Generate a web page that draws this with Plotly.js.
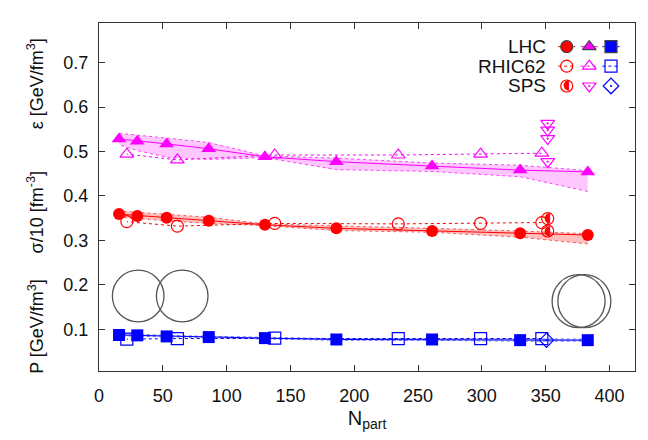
<!DOCTYPE html>
<html>
<head>
<meta charset="utf-8">
<script src="https://cdn.plot.ly/plotly-3.0.1.min.js"></script>
<style>html,body{margin:0;padding:0;background:#fff;}#chart{width:648px;height:440px;}</style>
</head>
<body>
<div id="chart"></div>
<script>
// ---------------- data ----------------
const npartLHC  = [383, 330, 261, 186, 130, 86, 53, 30, 15.7];
const epsLHC    = [0.454, 0.458, 0.467, 0.477, 0.488, 0.506, 0.517, 0.523, 0.528];
const epsLHCup  = [0.457, 0.469, 0.474, 0.485, 0.490, 0.520, 0.530, 0.537, 0.541];
const epsLHClo  = [0.410, 0.443, 0.455, 0.459, 0.486, 0.482, 0.487, 0.502, 0.515];
const sigLHC    = [0.312, 0.316, 0.321, 0.327, 0.335, 0.344, 0.351, 0.355, 0.359];
const sigLHCup  = [0.315, 0.321, 0.327, 0.332, 0.337, 0.352, 0.358, 0.362, 0.366];
const sigLHClo  = [0.292, 0.307, 0.318, 0.322, 0.333, 0.338, 0.344, 0.349, 0.352];
const pLHC      = [0.0754, 0.0754, 0.0769, 0.0769, 0.0800, 0.0823, 0.0838, 0.0862, 0.0870];
const pLHCup    = [0.078, 0.078, 0.079, 0.079, 0.082, 0.084, 0.086, 0.089, 0.090];
const pLHClo    = [0.073, 0.073, 0.075, 0.075, 0.078, 0.080, 0.082, 0.084, 0.085];

const npartRHIC = [347, 299, 234.5, 137.7, 61.4, 21.8];
const epsRHIC   = [0.496, 0.494, 0.492, 0.492, 0.481, 0.494];
const sigRHIC   = [0.340, 0.338, 0.337, 0.338, 0.332, 0.342];
const pRHIC     = [0.079, 0.079, 0.079, 0.080, 0.079, 0.0777];

const npartSPSeps = [351.6, 351.6, 351.6, 351.6];
const epsSPS      = [0.563, 0.548, 0.529, 0.477];
const npartSPSsig = [351.6, 351.6];
const sigSPS      = [0.349, 0.321];
const npartSPSp   = [350.7];
const pSPS        = [0.0754];

const xTicks = [0, 50, 100, 150, 200, 250, 300, 350, 400];
const xTickText = ['0', '50', '100', '150', '200', '250', '300', '350', '400'];
const yTicks = [0.1, 0.2, 0.3, 0.4, 0.5, 0.6, 0.7];
const yTickText = ['0.1', '0.2', '0.3', '0.4', '0.5', '0.6', '0.7'];

const legendNames = ['LHC', 'RHIC62', 'SPS'];
const yTitles = ['ε [GeV/fm<sup>3</sup>]', 'σ/10 [fm<sup>-3</sup>]', 'P [GeV/fm<sup>3</sup>]'];

// nucleus-overlap sketches: centers (data coords) and pixel radius
const circleX = [30.7, 65.2, 375.8, 380.3];
const circleY = [0.1747, 0.1747, 0.163, 0.163];
const circleR = [25.8, 25.8, 26.5, 26.5];

// ---------------- styling ----------------
const RED = '#ff0000', MAG = '#ff00ff', BLUE = '#0000ff';
const MS = 12;
const traces = [];

function band(x, up, lo, col, fillcol) {
  traces.push({x: x, y: up, mode: 'lines', line: {color: col, width: 1, dash: 'dot'}, hoverinfo: 'skip'});
  traces.push({x: x, y: lo, mode: 'lines', line: {color: col, width: 1, dash: 'dot'}, fill: 'tonexty', fillcolor: fillcol, hoverinfo: 'skip'});
}
band(npartLHC, epsLHCup, epsLHClo, 'rgba(255,0,255,0.7)', 'rgba(255,0,255,0.22)');
band(npartLHC, sigLHCup, sigLHClo, 'rgba(255,0,0,0.6)', 'rgba(255,0,0,0.25)');
band(npartLHC, pLHCup, pLHClo, 'rgba(0,0,255,0.5)', 'rgba(0,0,255,0.2)');

// RHIC62 (open, dotted)
traces.push({x: npartRHIC, y: epsRHIC, mode: 'lines+markers', line: {color: MAG, width: 1, dash: 'dot'},
  marker: {symbol: 'triangle-up-open', size: MS, color: MAG, line: {width: 1.2}}});
traces.push({x: npartRHIC, y: sigRHIC, mode: 'lines+markers', line: {color: RED, width: 1, dash: 'dot'},
  marker: {symbol: 'circle-open', size: MS, color: RED, line: {width: 1.2}}});
traces.push({x: npartRHIC, y: pRHIC, mode: 'lines+markers', line: {color: BLUE, width: 1, dash: 'dot'},
  marker: {symbol: 'square-open', size: MS, color: BLUE, line: {width: 1.2}}});

// LHC (filled, solid)
traces.push({x: npartLHC, y: epsLHC, mode: 'lines+markers', line: {color: MAG, width: 1},
  marker: {symbol: 'triangle-up', size: MS + 1, color: MAG}});
traces.push({x: npartLHC, y: sigLHC, mode: 'lines+markers', line: {color: RED, width: 1},
  marker: {symbol: 'circle', size: MS, color: RED}});
traces.push({x: npartLHC, y: pLHC, mode: 'lines+markers', line: {color: BLUE, width: 1},
  marker: {symbol: 'square', size: MS, color: BLUE}});

// SPS
traces.push({x: npartSPSeps, y: epsSPS, mode: 'markers',
  marker: {symbol: 'triangle-down-open-dot', size: MS, color: MAG, line: {width: 1.2}}});
traces.push({x: npartSPSsig, y: sigSPS, mode: 'markers',
  marker: {symbol: 'circle-open', size: MS, color: RED, line: {width: 1.2}}});
traces.push({x: npartSPSsig, y: sigSPS, mode: 'text', text: sigSPS.map(() => '◖'),
  textposition: 'middle center', textfont: {family: 'DejaVu Sans', size: 14, color: RED}, hoverinfo: 'skip'});
traces.push({x: npartSPSp, y: pSPS, mode: 'markers',
  marker: {symbol: 'diamond-open-dot', size: MS - 1, color: BLUE, line: {width: 1.2}}});

// ---------------- custom key (top right) ----------------
const keyRows = [0.932, 0.876, 0.819];
const keyCols = [0.8726, 0.9147, 0.9552];
const keyHalf = 0.016;
const keySym = [
  ['circle', 'triangle-up', 'square'],
  ['circle-open', 'triangle-up-open', 'square-open'],
  ['circle-open', 'triangle-down-open-dot', 'diamond-open-dot']
];
const keyCol = [RED, MAG, BLUE];
const keyDash = ['solid', 'dot', null];
for (let r = 0; r < 3; r++) {
  for (let c = 0; c < 3; c++) {
    if (keyDash[r]) {
      traces.push({x: [keyCols[c] - keyHalf, keyCols[c] + keyHalf], y: [keyRows[r], keyRows[r]],
        xaxis: 'x2', yaxis: 'y2', mode: 'lines', line: {color: keyCol[c], width: 1, dash: keyDash[r]}, hoverinfo: 'skip'});
    }
    traces.push({x: [keyCols[c]], y: [keyRows[r]], xaxis: 'x2', yaxis: 'y2', mode: 'markers',
      marker: {symbol: keySym[r][c], size: MS, color: keyCol[c], line: {width: 1.2}}, hoverinfo: 'skip'});
  }
}
traces.push({x: [keyCols[0]], y: [keyRows[2]], xaxis: 'x2', yaxis: 'y2', mode: 'text', text: ['◖'],
  textposition: 'middle center', textfont: {family: 'DejaVu Sans', size: 14, color: RED}, hoverinfo: 'skip'});

const annotations = [];
legendNames.forEach((t, i) => annotations.push({xref: 'paper', yref: 'paper', x: 0.8377, y: keyRows[i],
  xanchor: 'right', yanchor: 'middle', text: t, showarrow: false, font: {size: 19, color: '#111'}}));
const yTitlePos = [0.826, 0.455, 0.129];
yTitles.forEach((t, i) => annotations.push({xref: 'paper', yref: 'paper', x: -0.118, y: yTitlePos[i],
  xanchor: 'center', yanchor: 'middle', textangle: -90, text: t, showarrow: false, font: {size: 18, color: '#111'}}));

const shapes = circleX.map((cx, i) => ({type: 'circle', xref: 'x', yref: 'y', xsizemode: 'pixel', ysizemode: 'pixel',
  xanchor: cx, yanchor: circleY[i], x0: -circleR[i], x1: circleR[i], y0: -circleR[i], y1: circleR[i],
  line: {color: '#555', width: 1.3}}));

const axisCommon = {ticks: 'inside', ticklen: 6, tickcolor: '#333', tickwidth: 1, showline: true, linecolor: '#333',
  linewidth: 1, mirror: 'ticks', showgrid: false, zeroline: false, tickfont: {size: 18, color: '#111'}};

const layout = {
  width: 648, height: 440,
  margin: {l: 99, r: 13, t: 23, b: 69, pad: 0},
  paper_bgcolor: '#fff', plot_bgcolor: '#fff',
  showlegend: false,
  font: {family: '"Liberation Sans", Arial, sans-serif', size: 18, color: '#111'},
  xaxis: Object.assign({}, axisCommon, {range: [0, 420], tickvals: xTicks, ticktext: xTickText,
    ticklabelstandoff: 8, title: {text: 'N<sub>part</sub>', font: {size: 20}, standoff: 6}}),
  yaxis: Object.assign({}, axisCommon, {range: [0.006, 0.789], tickvals: yTicks, ticktext: yTickText,
    ticklabelstandoff: 6}),
  xaxis2: {overlaying: 'x', anchor: 'y2', range: [0, 1], visible: false, fixedrange: true},
  yaxis2: {overlaying: 'y', anchor: 'x2', range: [0, 1], visible: false, fixedrange: true},
  annotations: annotations,
  shapes: shapes
};

Plotly.newPlot('chart', traces, layout, {staticPlot: true, displayModeBar: false});
</script>
</body>
</html>
